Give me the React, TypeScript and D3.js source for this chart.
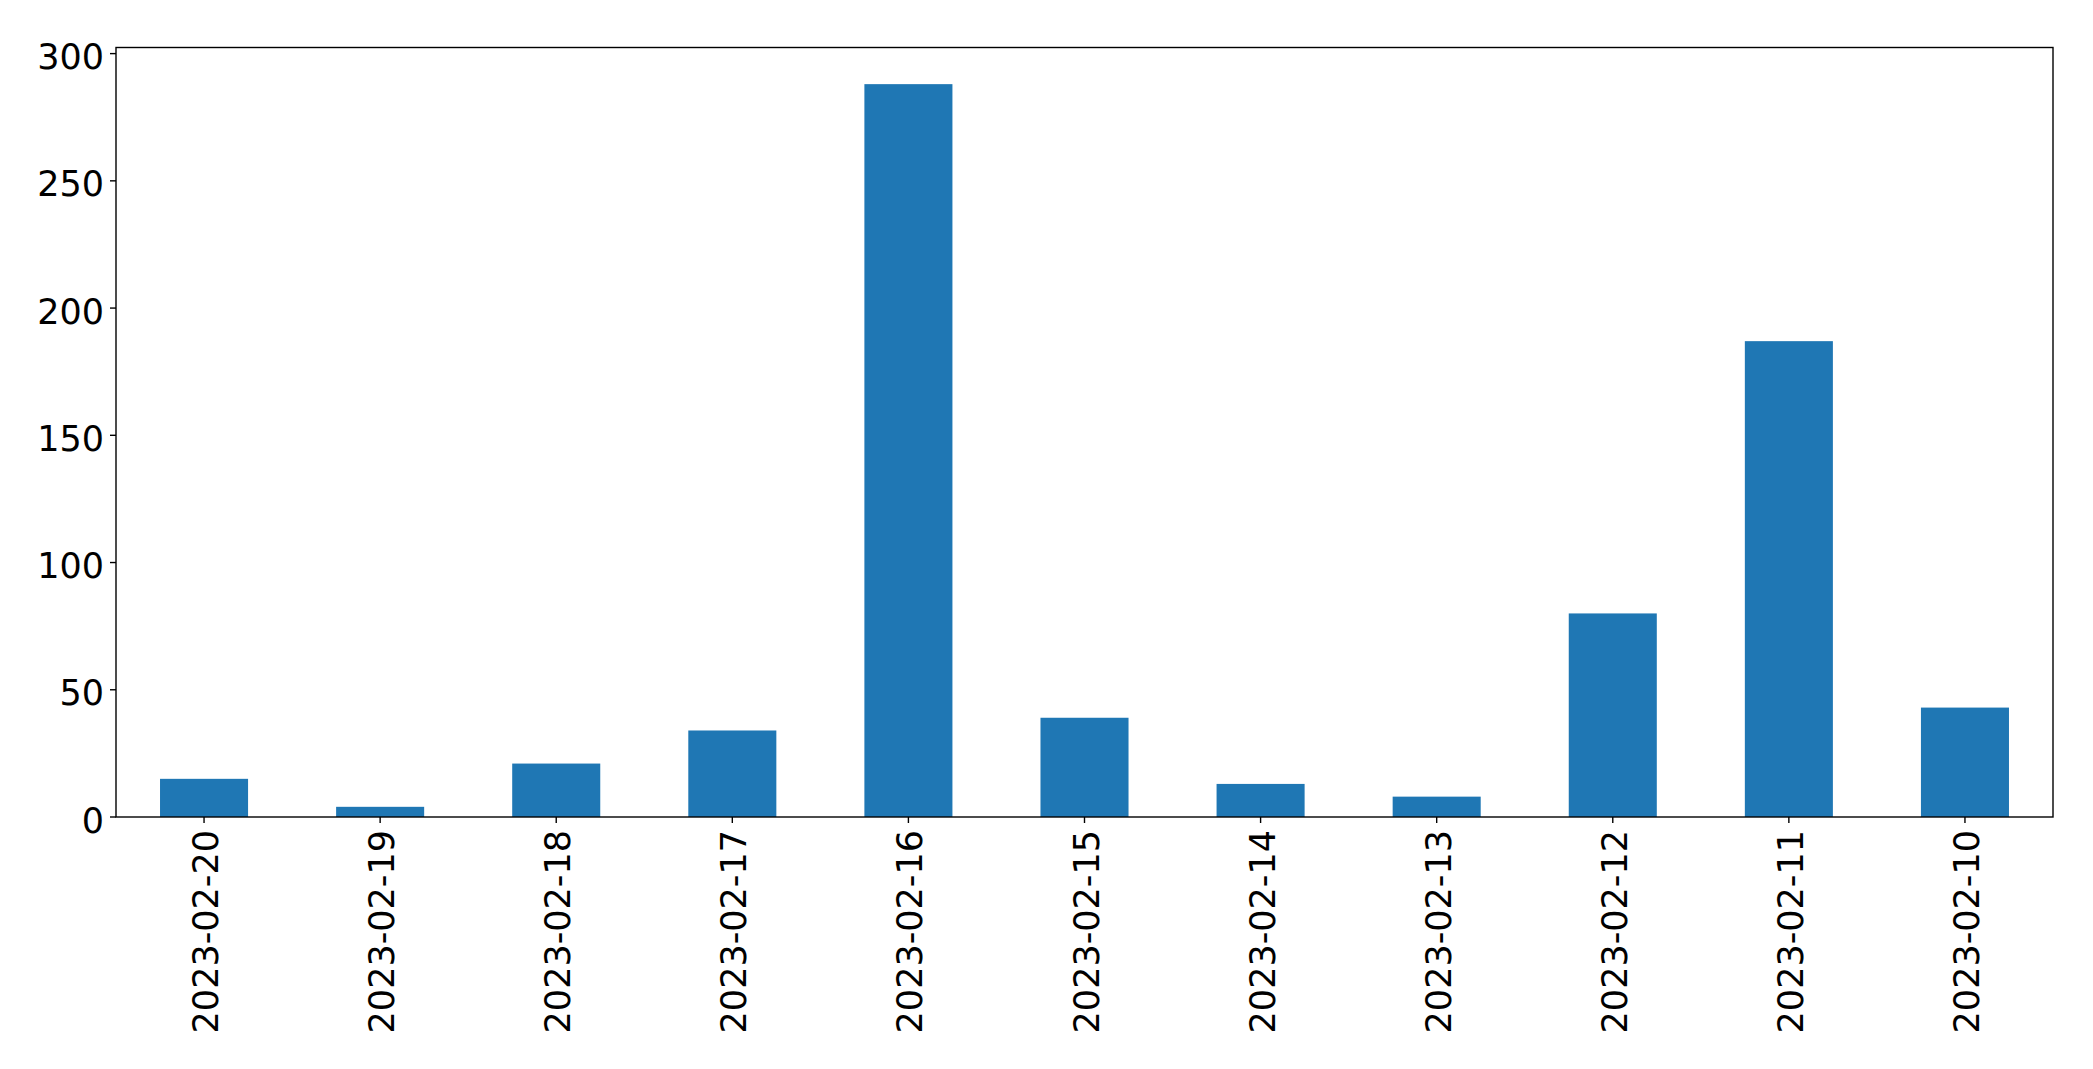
import React from "react";
import * as d3 from "d3";

const categories = [
  "2023-02-20",
  "2023-02-19",
  "2023-02-18",
  "2023-02-17",
  "2023-02-16",
  "2023-02-15",
  "2023-02-14",
  "2023-02-13",
  "2023-02-12",
  "2023-02-11",
  "2023-02-10",
];
const values = [15, 4, 21, 34, 288, 39, 13, 8, 80, 187, 43];
const yTicks = [0, 50, 100, 150, 200, 250, 300];

const W = 2093;
const H = 1069;
const left = 116;
const right = 2053;
const top = 47.5;
const bottom = 817;
const FONT = "DejaVu Sans";
const FS = 35;

export default function App() {
  const x = d3
    .scaleBand<string>()
    .domain(categories)
    .range([left, right])
    .paddingInner(0.5)
    .paddingOuter(0.25);
  const yMax = (d3.max(values) as number) * 1.05;
  const y = d3.scaleLinear().domain([0, yMax]).range([bottom, top]);

  return (
    <svg
      width={W}
      height={H}
      style={{ position: "absolute", left: 0, top: 0, display: "block", background: "#fff" }}
    >
      <rect x={0} y={0} width={W} height={H} fill="#fff" />
      {categories.map((c, i) => (
        <rect
          key={c}
          x={x(c)}
          y={y(values[i])}
          width={x.bandwidth()}
          height={y(0) - y(values[i])}
          fill="#1f77b4"
        />
      ))}
      {/* spines */}
      <rect
        x={left}
        y={top}
        width={right - left}
        height={bottom - top}
        fill="none"
        stroke="#000"
        strokeWidth={1.4}
      />
      {/* y ticks */}
      {yTicks.map((t) => (
        <g key={t}>
          <line x1={left - 6} x2={left} y1={y(t)} y2={y(t)} stroke="#000" strokeWidth={1.4} />
          <text
            x={left - 12}
            y={y(t) + 15.5}
            textAnchor="end"
            fontFamily={FONT}
            fontSize={FS}
            fill="#000"
          >
            {t}
          </text>
        </g>
      ))}
      {/* x ticks */}
      {categories.map((c) => {
        const cx = (x(c) as number) + x.bandwidth() / 2;
        return (
          <g key={c}>
            <line x1={cx} x2={cx} y1={bottom} y2={bottom + 6} stroke="#000" strokeWidth={1.4} />
            <text
              transform={`translate(${cx},${bottom + 13}) rotate(-90)`}
              textAnchor="end"
              dy={14}
              fontFamily={FONT}
              fontSize={FS}
              fill="#000"
            >
              {c}
            </text>
          </g>
        );
      })}
    </svg>
  );
}
